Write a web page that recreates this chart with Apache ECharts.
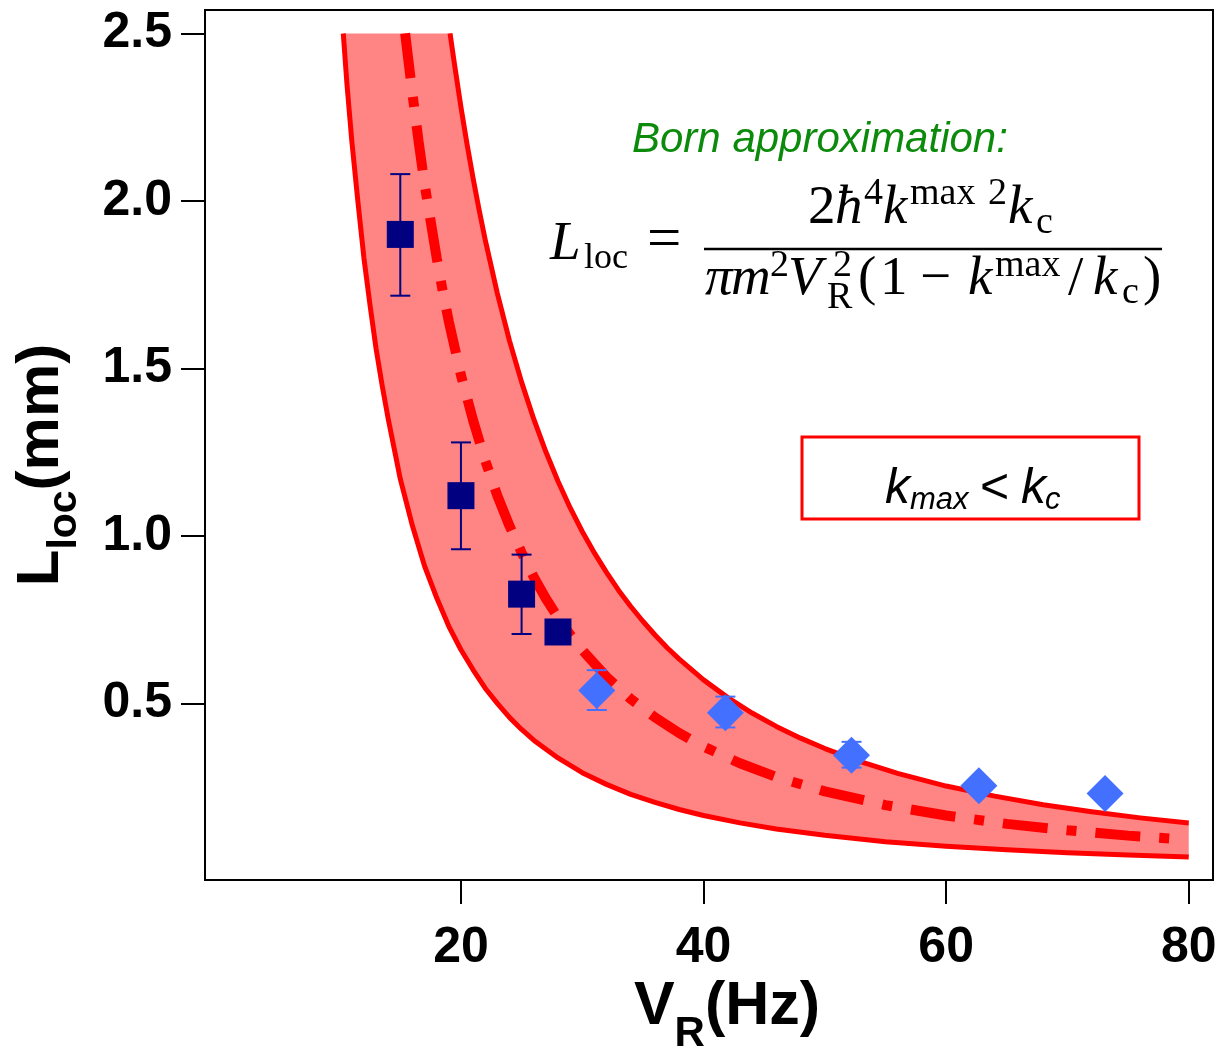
<!DOCTYPE html>
<html><head><meta charset="utf-8">
<script src="https://cdn.jsdelivr.net/npm/echarts@6/dist/echarts.min.js"></script>
<style>html,body{margin:0;padding:0;background:#fff}#c{width:1222px;height:1049px}</style>
</head><body><div id="c"></div>
<script>
// ---- data ----
const xTicks = [20, 40, 60, 80];
const yTicks = [0.5, 1.0, 1.5, 2.0, 2.5];

const squareX    = [15, 20, 25, 28];
const squareY    = [1.90, 1.12, 0.826, 0.713];
const squareLow  = [1.717, 0.96, 0.707, null];
const squareHigh = [2.08, 1.279, 0.944, null];

const diamondX    = [31.2, 41.8, 52.2, 62.7, 73.1];
const diamondY    = [0.538, 0.472, 0.345, 0.254, 0.231];
const diamondLow  = [0.48, 0.428, 0.308, null, null];
const diamondHigh = [0.599, 0.52, 0.385, null, null];

const upperX = [19.1, 19.5, 20, 20.5, 21, 21.5, 22, 23, 24, 25, 26, 27, 28, 29, 30, 31, 32, 33, 34, 35, 36, 37, 38, 40, 42, 44, 46, 48, 50, 53, 56, 60, 64, 68, 72, 76, 80];
const upperY = [2.50, 2.40, 2.28, 2.17, 2.068, 1.973, 1.884, 1.724, 1.583, 1.459, 1.349, 1.251, 1.163, 1.084, 1.013, 0.949, 0.891, 0.837, 0.789, 0.745, 0.704, 0.666, 0.632, 0.57, 0.517, 0.471, 0.431, 0.396, 0.365, 0.325, 0.291, 0.253, 0.223, 0.197, 0.176, 0.158, 0.143];

const lowerX = [10.3, 10.6, 11, 11.5, 12, 12.5, 13, 13.5, 14, 14.5, 15, 16, 17, 18, 19, 20, 21, 22, 23, 24, 25, 26, 28, 30, 32, 34, 36, 38, 40, 43, 46, 50, 55, 60, 65, 70, 75, 80];
const lowerY = [2.50, 2.35, 2.18, 2.00, 1.83, 1.69, 1.56, 1.45, 1.35, 1.26, 1.17, 1.03, 0.91, 0.815, 0.73, 0.66, 0.60, 0.545, 0.50, 0.458, 0.422, 0.39, 0.337, 0.293, 0.258, 0.228, 0.204, 0.183, 0.165, 0.143, 0.125, 0.106, 0.087, 0.073, 0.0625, 0.054, 0.047, 0.041];

const centerX = [15.4, 15.7, 16, 16.5, 17, 17.5, 18, 18.5, 19, 19.5, 20, 21, 22, 23, 24, 25, 26, 27, 28, 29, 30, 32, 34, 36, 38, 40, 43, 46, 50, 55, 60, 65, 70, 75, 79];
const centerY = [2.50, 2.41, 2.32, 2.18, 2.05, 1.94, 1.83, 1.73, 1.64, 1.56, 1.48, 1.345, 1.225, 1.12, 1.03, 0.95, 0.877, 0.813, 0.756, 0.705, 0.659, 0.579, 0.513, 0.458, 0.411, 0.371, 0.321, 0.28, 0.237, 0.196, 0.165, 0.14, 0.121, 0.105, 0.095];

// ---- helpers ----
const zip = (xs, ys) => xs.map((x, i) => [x, ys[i]]);
const errRows = (xs, ys, lo, hi) => xs.map((x, i) => [x, ys[i], lo[i], hi[i]]).filter(r => r[2] != null);

const SANS = 'Liberation Sans';
const SERIF = 'Liberation Serif';
const RED = '#FF0000';
const NAVY = '#000080';
const BLUE = '#4470FF';

function mt(text, x, base, size, italic, fam, color) {
  const f = fam || SERIF;
  const k = f === SERIF ? 0.34 : 0.35;
  return {type: 'text', x: x, y: base - k * size, silent: true, z: 100,
    style: {text: text, fontSize: size, fontFamily: f, fontStyle: italic ? 'italic' : 'normal',
      fill: color || '#000', align: 'left', verticalAlign: 'middle'}};
}

function errorBarSeries(rows, color) {
  return {
    type: 'custom', z: 4, data: rows, encode: {x: 0, y: [2, 3]},
    renderItem: function (params, api) {
      const lo = api.coord([api.value(0), api.value(2)]);
      const hi = api.coord([api.value(0), api.value(3)]);
      const cw = 10;
      const st = {stroke: color, lineWidth: 2};
      return {type: 'group', children: [
        {type: 'line', shape: {x1: lo[0], y1: lo[1], x2: hi[0], y2: hi[1]}, style: st},
        {type: 'line', shape: {x1: lo[0] - cw, y1: lo[1], x2: lo[0] + cw, y2: lo[1]}, style: st},
        {type: 'line', shape: {x1: hi[0] - cw, y1: hi[1], x2: hi[0] + cw, y2: hi[1]}, style: st}
      ]};
    }
  };
}

const M = 55, S = 38;
const formula = [
  mt('L', 550, 263, M, true),
  mt('loc', 584, 271, 36, false),
  mt('=', 647, 263, M + 6, false),
  // numerator
  mt('2', 808, 227, M, false),
  mt('ħ', 835, 227, M, true),
  mt('4', 864, 207, S, false),
  mt('k', 883, 227, M, true),
  mt('max', 910, 207, S, false),
  mt('2', 988, 207, S, false),
  mt('k', 1008, 227, M, true),
  mt('c', 1036, 236, S, false),
  // denominator
  mt('π', 705, 298, M, true),
  mt('m', 731, 298, M, true),
  mt('2', 770, 279, S, false),
  mt('V', 788, 298, M, true),
  mt('2', 833, 279, S, false),
  mt('R', 827, 311, S, false),
  mt('(', 858, 298, M, false),
  mt('1', 880, 298, M, false),
  mt('−', 920, 298, M, false),
  mt('k', 968, 298, M, true),
  mt('max', 995, 279, S, false),
  mt('/', 1068, 298, M, false),
  mt('k', 1093, 298, M, true),
  mt('c', 1122, 306, S, false),
  mt(')', 1143, 298, M, false),
  {type: 'line', z: 100, silent: true, shape: {x1: 704, y1: 249, x2: 1162, y2: 249}, style: {stroke: '#000', lineWidth: 2.5}}
];

const kbox = [
  {type: 'rect', z: 90, silent: true, shape: {x: 802, y: 437, width: 337, height: 82}, style: {fill: '#fff', stroke: RED, lineWidth: 3}},
  mt('k', 885, 507, 50, true, SANS),
  mt('max', 910, 511, 31, true, SANS),
  mt('<', 980, 507, 50, false, SANS),
  mt('k', 1021, 507, 50, true, SANS),
  mt('c', 1045, 511, 31, true, SANS)
];

const born = {type: 'text', x: 632, y: 140, silent: true, z: 100,
  style: {text: 'Born approximation:', fontSize: 42, fontFamily: SANS, fontStyle: 'italic', fill: '#0B8A0B', align: 'left', verticalAlign: 'middle'}};

const chart = echarts.init(document.getElementById('c'), null, {renderer: 'canvas'});
chart.setOption({
  animation: false,
  backgroundColor: '#fff',
  grid: {left: 205, right: 9, top: 10, bottom: 169, show: true, borderColor: '#000', borderWidth: 2, containLabel: false, outerBoundsMode: 'none'},
  xAxis: {
    type: 'value', min: -1.1, max: 82,
    axisLine: {show: true, onZero: false, lineStyle: {color: '#000', width: 2}},
    axisTick: {show: true, customValues: xTicks, length: 24, lineStyle: {color: '#000', width: 2}},
    axisLabel: {customValues: xTicks, margin: 43, fontSize: 50, fontWeight: 'bold', fontFamily: SANS, color: '#000'},
    splitLine: {show: false},
    name: '{m|V}{s|R}{m|(Hz)}', nameLocation: 'middle', nameGap: 79, nameMoveOverlap: false,
    nameTextStyle: {padding: [0, 0, 0, 36], rich: {
      m: {fontSize: 61, fontWeight: 'bold', fontFamily: SANS, color: '#000'},
      s: {fontSize: 42, fontWeight: 'bold', fontFamily: SANS, color: '#000', padding: [54, 0, 0, 0]}
    }}
  },
  yAxis: {
    type: 'value', min: -0.0275, max: 2.57,
    axisLine: {show: true, onZero: false, lineStyle: {color: '#000', width: 2}},
    axisTick: {show: true, customValues: yTicks, length: 24, lineStyle: {color: '#000', width: 2}},
    axisLabel: {customValues: yTicks, margin: 33, fontSize: 50, fontWeight: 'bold', fontFamily: SANS, color: '#000',
      formatter: v => v.toFixed(1)},
    splitLine: {show: false},
    name: '{m|L}{s|loc}{m|(mm)}', nameLocation: 'middle', nameGap: 120, nameRotate: 90, nameMoveOverlap: false,
    nameTextStyle: {padding: [0, 40, 0, 0], rich: {
      m: {fontSize: 60, fontWeight: 'bold', fontFamily: SANS, color: '#000'},
      s: {fontSize: 41, fontWeight: 'bold', fontFamily: SANS, color: '#000', padding: [46, 0, 0, 0]}
    }}
  },
  graphic: {elements: [born].concat(formula, kbox)},
  series: [
    {
      type: 'custom', z: 1, silent: true, data: [[upperX[0], upperY[0]]],
      renderItem: function (params, api) {
        const pts = [];
        for (let i = 0; i < upperX.length; i++) pts.push(api.coord([upperX[i], upperY[i]]));
        for (let i = lowerX.length - 1; i >= 0; i--) pts.push(api.coord([lowerX[i], lowerY[i]]));
        return {type: 'polygon', shape: {points: pts}, style: {fill: '#FF8585'}};
      }
    },
    {type: 'line', z: 2, data: zip(upperX, upperY), showSymbol: false, smooth: false,
      lineStyle: {color: RED, width: 5, join: 'round'}},
    {type: 'line', z: 2, data: zip(lowerX, lowerY), showSymbol: false, smooth: false,
      lineStyle: {color: RED, width: 5, join: 'round'}},
    {type: 'line', z: 3, data: zip(centerX, centerY), showSymbol: false, smooth: false,
      lineStyle: {color: RED, width: 10, type: [45, 19, 10, 19], cap: 'butt'}},
    errorBarSeries(errRows(squareX, squareY, squareLow, squareHigh), NAVY),
    errorBarSeries(errRows(diamondX, diamondY, diamondLow, diamondHigh), BLUE),
    {type: 'scatter', z: 5, data: zip(squareX, squareY), symbol: 'rect', symbolSize: 27, itemStyle: {color: NAVY, opacity: 1}},
    {type: 'scatter', z: 5, data: zip(diamondX, diamondY), symbol: 'diamond', symbolSize: [37, 37], itemStyle: {color: BLUE, opacity: 1}}
  ]
});
</script>
</body></html>
